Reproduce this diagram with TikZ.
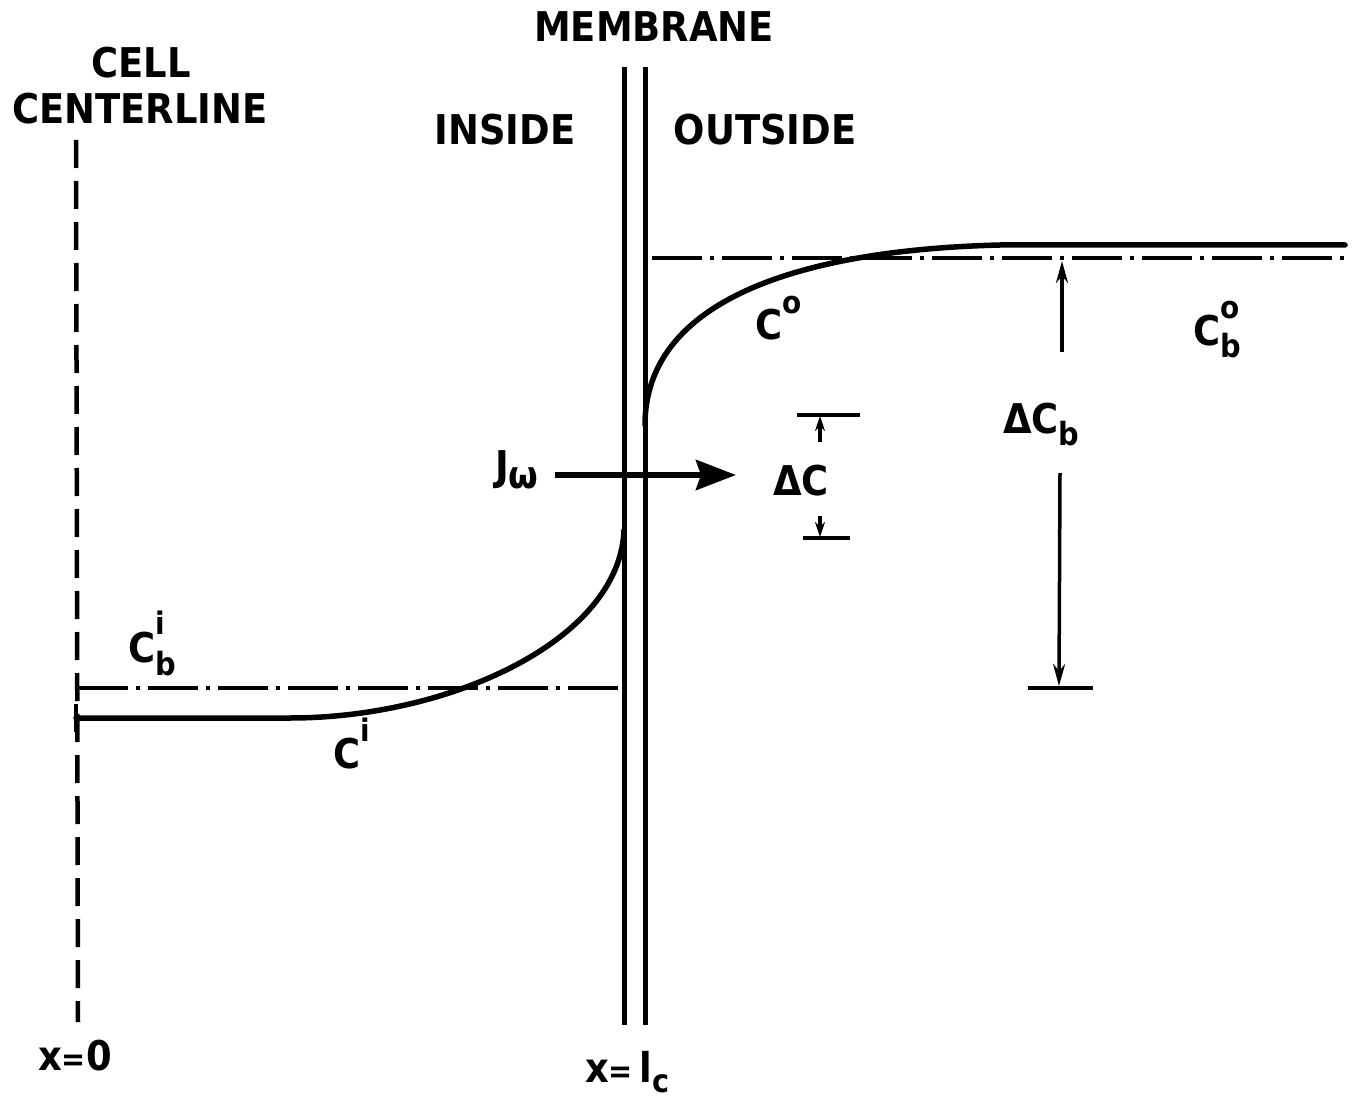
\documentclass[tikz,border=0pt]{standalone}
\usepackage{fontspec}
\setmainfont{DejaVu Sans Condensed}
\usetikzlibrary{arrows.meta}
\newcommand{\SupS}[2][26pt]{\raisebox{#1}{\fontsize{31}{31}\selectfont #2}}
\newcommand{\SubS}[2][-13pt]{\raisebox{#1}{\fontsize{32}{32}\selectfont #2}}
\begin{document}
\begin{tikzpicture}[x=1pt,y=-1pt,
  lbl/.style={font=\fontsize{41}{41}\selectfont\bfseries, inner sep=0pt},
  memb/.style={line width=5pt},
  prof/.style={line width=5.5pt, line cap=round},
  dashdot/.style={line width=4.5pt, dash pattern=on 50pt off 8pt on 4pt off 8pt},
  cline/.style={line width=4.5pt, dash pattern=on 28pt off 13pt},
  dimline/.style={line width=3.5pt},
  bar/.style={line width=4pt},
]
\useasboundingbox (0,0) rectangle (1355,1099);
\fill[white] (0,0) rectangle (1355,1099);

% labels
\node[lbl, anchor=base] (membrane) at (654,42) {MEMBRANE};
\node[lbl, anchor=base] (cell) at (141,78) {CELL};
\node[lbl, anchor=base] (centerline) at (140,124) {CENTERLINE};
\node[lbl, anchor=base] (inside) at (505,145) {INSIDE};
\node[lbl, anchor=base] (outside) at (765,145) {OUTSIDE};
\node[lbl, anchor=base west] (co) at (755,340) {C\SupS{o}};
\node[lbl, anchor=base west] (cbo) at (1193,345) {C\rlap{\SupS[27pt]{o}}\SubS{b}};
\node[lbl, anchor=base west] (dcb) at (1003,433) {ΔC\SubS[-12pt]{b}};
\node[lbl, anchor=base west] (dc) at (773,495) {ΔC};
\node[lbl, anchor=base west] (jw) at (495,480) {J{\raisebox{-8pt}{\fontsize{38}{38}\selectfont ω}}};
\node[lbl, anchor=base west] (cbi) at (128,662) {C\rlap{\SupS[28pt]{i}}\SubS{b}};
\node[lbl, anchor=base west] (ci) at (333,768) {C\SupS[27pt]{i}};
\node[lbl, anchor=base west] (x0) at (38,1070) {x{\fontsize{32}{32}\selectfont =}0};
\node[lbl, anchor=base west] (xlc) at (585,1082) {x{\fontsize{32}{32}\selectfont =}\,l\SubS[-10pt]{c}};

% centerline and membrane
\coordinate (cltop) at (76,140);
\coordinate (clbot) at (78,1022);
\draw[cline] (cltop) -- (clbot);
\coordinate (mi1) at (624,67); \coordinate (mi2) at (624,1025);
\coordinate (mo1) at (645,67); \coordinate (mo2) at (645,1025);
\draw[memb] (mi1) -- (mi2);
\draw[memb] (mo1) -- (mo2);

% bulk concentrations
\coordinate (bi1) at (78,688); \coordinate (bi2) at (622,688);
\draw[dashdot] (bi1) -- (bi2);
\coordinate (bo1) at (652,258); \coordinate (bo2) at (1345,258);
\draw[dashdot] (bo1) -- (bo2);

% concentration profiles
\coordinate (ci0) at (76,718);
\coordinate (ci1) at (290,718);
\coordinate (ci2) at (624,530);
\draw[prof] (ci0) -- (ci1) .. controls (450,718) and (620,640) .. (ci2);
\draw[line width=4pt] (76,704) -- (76,732);
\coordinate (co0) at (645,425);
\coordinate (co1) at (1000,245);
\coordinate (co2) at (1345,245);
\draw[prof] (co0) .. controls (645,300) and (800,250) .. (co1) -- (co2);

% J_w arrow
\coordinate (js) at (555,475);
\coordinate (je) at (736,475);
\draw[line width=6pt, -{Stealth[length=40pt,width=30pt,inset=5pt]}] (js) -- (je);

% Delta C bracket
\coordinate (dct1) at (797,415); \coordinate (dct2) at (860,415);
\coordinate (dcb1) at (803,538); \coordinate (dcb2) at (850,538);
\draw[bar] (dct1) -- (dct2);
\draw[bar] (dcb1) -- (dcb2);
\draw[dimline, -{Stealth[length=15pt,width=10pt]}] (820,442) -- (820,416);
\draw[dimline, -{Stealth[length=15pt,width=10pt]}] (820,516) -- (820,537);

% Delta C_b
\draw[dimline, -{Stealth[length=22pt,width=12pt]}] (1062,352) -- (1062,261);
\draw[dimline, -{Stealth[length=22pt,width=12pt]}] (1060,473) -- (1059,686);
\coordinate (dbb1) at (1028,688); \coordinate (dbb2) at (1093,688);
\draw[bar] (dbb1) -- (dbb2);
\end{tikzpicture}
\end{document}
